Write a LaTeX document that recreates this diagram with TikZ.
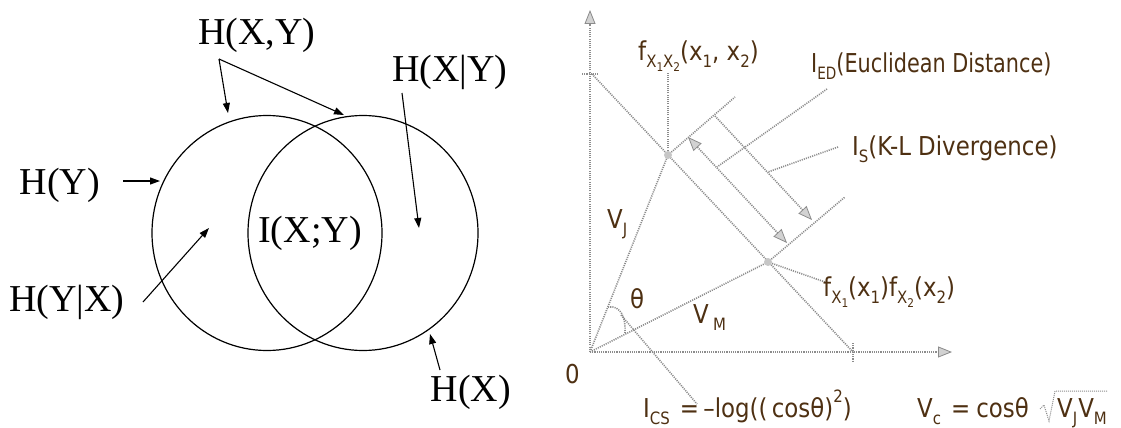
\documentclass[tikz,border=0pt]{standalone}
\usepackage{fontspec}
\setmainfont{Liberation Serif}
\newfontfamily\bsans[FakeStretch=0.88]{DejaVu Sans}
\newfontfamily\bsansn[FakeStretch=0.8]{DejaVu Sans}
\usetikzlibrary{arrows.meta,shapes.geometric}
\definecolor{txtbrown}{RGB}{78,48,18}
\definecolor{dotgray}{RGB}{140,140,140}
\newcommand{\lsb}[1]{\raisebox{-0.28em}{\fontsize{17}{17}\selectfont #1}}
\newcommand{\lssb}[1]{\raisebox{-0.22em}{\fontsize{12}{12}\selectfont #1}}
\newcommand{\lsp}[1]{\raisebox{0.55em}{\fontsize{17}{17}\selectfont #1}}
\begin{document}
\begin{tikzpicture}[x=1pt,y=-1pt,
  venn/.style={draw=black, line width=1.2pt, ellipse, minimum width=230pt, minimum height=235pt, inner sep=0},
  larr/.style={-{Triangle[length=10pt,width=7pt]}, line width=1.1pt},
  serif/.style={font=\fontsize{38}{40}\selectfont, inner sep=0},
  brn/.style={text=txtbrown, font=\bsans\fontsize{26}{28}\selectfont, inner sep=0, anchor=base west},
  dl/.style={draw=dotgray, line width=1.6pt, dash pattern=on 1.1pt off 1.1pt},
  dtip/.style={-{Triangle[length=14pt,width=11pt,fill=gray!35,color=dotgray,line width=0.8pt]}},
  dtips/.style={{Triangle[length=14pt,width=11pt,fill=gray!35,color=dotgray,line width=0.8pt]}-{Triangle[length=14pt,width=11pt,fill=gray!35,color=dotgray,line width=0.8pt]}}
]
\useasboundingbox (0,0) rectangle (1121,428);
% ---------------- Venn diagram ----------------
\node[venn] (cy) at (267,233) {};
\node[venn] (cx) at (363,233) {};
\node[serif] (ixy) at (310,233) {I(X;Y)};
\node[serif] (hxy) at (257,35) {H(X,Y)};
\node[serif] (hxgy) at (450,72) {H(X|Y)};
\node[serif] (hy) at (60,185) {H(Y)};
\node[serif] (hygx) at (67,302) {H(Y|X)};
\node[serif] (hx) at (471,392) {H(X)};
\coordinate (hxyv) at (219,59);
\coordinate (hxyl) at (228,113);
\coordinate (hxyr) at (344,115);
\coordinate (hxgys) at (402,93);
\coordinate (hxgyt) at (419,228);
\coordinate (hys) at (123,181);
\coordinate (hyt) at (160,181);
\coordinate (hygxs) at (143,302);
\coordinate (hygxt) at (209,228);
\coordinate (hxs) at (440,370);
\coordinate (hxt) at (430,334);
\draw[larr] (hxyv) -- (hxyl);
\draw[larr] (hxyv) -- (hxyr);
\draw[larr] (hxgys) -- (hxgyt);
\draw[larr] (hys) -- (hyt);
\draw[larr] (hygxs) -- (hygxt);
\draw[larr] (hxs) -- (hxt);
% ---------------- Geometry diagram ----------------
\coordinate (O) at (590,352);
\coordinate (ytop) at (590,10);
\coordinate (xend) at (952,352);
\coordinate (ytk1) at (582,74);
\coordinate (ytk2) at (598,74);
\coordinate (xtk1) at (853,343);
\coordinate (xtk2) at (853,361);
\coordinate (A) at (592,74);
\coordinate (B) at (853,352);
\coordinate (J) at (668,155);
\coordinate (M) at (768,262);
\coordinate (Jp) at (735,97);
\coordinate (Mp) at (845,197);
\coordinate (s1) at (715,116);
\coordinate (s2) at (812,220);
\coordinate (e1) at (688,137);
\coordinate (e2) at (787,243);
\coordinate (edl) at (827,89);
\coordinate (ede) at (717,167);
\coordinate (isl) at (838,147);
\coordinate (ise) at (768,172);
\coordinate (fjt) at (668,73);
\coordinate (fme) at (825,282);
\coordinate (th1) at (608,307);
\coordinate (th2) at (625,333);
\coordinate (ics1) at (621,315);
\coordinate (ics2) at (697,404);
\draw[dl,dtip] (O) -- (ytop);
\draw[dl,dtip] (O) -- (xend);
\draw[dl] (ytk1) -- (ytk2);
\draw[dl] (xtk1) -- (xtk2);
\draw[dl] (A) -- (B);
\draw[dl] (O) -- (J);
\draw[dl] (O) -- (M);
\draw[dl] (J) -- (Jp);
\draw[dl] (M) -- (Mp);
\draw[dl,dtip] (s1) -- (s2);
\draw[dl,dtips] (e1) -- (e2);
\draw[dl] (edl) -- (ede);
\draw[dl] (isl) -- (ise);
\draw[dl] (J) -- (fjt);
\draw[dl] (M) -- (fme);
\draw[dl] (th1) .. controls (621,305) and (626,318) .. (th2);
\draw[dl] (ics1) -- (ics2);
\fill[gray!45] (J) circle (4pt);
\fill[gray!45] (M) circle (4pt);
% labels
\node[brn] (lfj) at (638,60) {f\lsb{X\lssb{1}X\lssb{2}}(x\lsb{1}, x\lsb{2})};
\node[brn, font=\bsansn\fontsize{26}{28}\selectfont] (led) at (811,72) {I\lsb{ED}(Euclidean Distance)};
\node[brn] (lis) at (852,155) {I\lsb{S}(K-L Divergence)};
\node[brn] (lfm) at (823,296) {f\lsb{X\lssb{1}}(x\lsb{1})f\lsb{X\lssb{2}}(x\lsb{2})};
\node[brn] (lvj) at (607,228) {V\lsb{J}};
\node[brn] (lth) at (630,308) {θ};
\node[brn] (lvm) at (693,323) {V\,\lsb{M}};
\node[brn] (lzero) at (565,383) {0};
\node[brn] (lics) at (643,417) {I\lsb{CS}\hspace{10pt}=\,–log((\,cosθ)\lsp{2})};
\node[brn] (lvc) at (917,417) {V\lsb{c}\hspace{10pt}=\hspace{6pt}cosθ};
\node[brn] (lvjm) at (1057,417) {V\lsb{J}\hspace{1pt}V\lsb{M}};
% radical
\coordinate (r1) at (1040,409);
\coordinate (r2) at (1044,405);
\coordinate (r3) at (1049,421);
\coordinate (r4) at (1055,391);
\coordinate (r5) at (lvjm.north east);
\draw[draw=dotgray, line width=1pt, dash pattern=on 1pt off 1pt] (r1) -- (r2) -- (r3) -- (r4) -- (r5 |- r4);
\end{tikzpicture}
\end{document}
